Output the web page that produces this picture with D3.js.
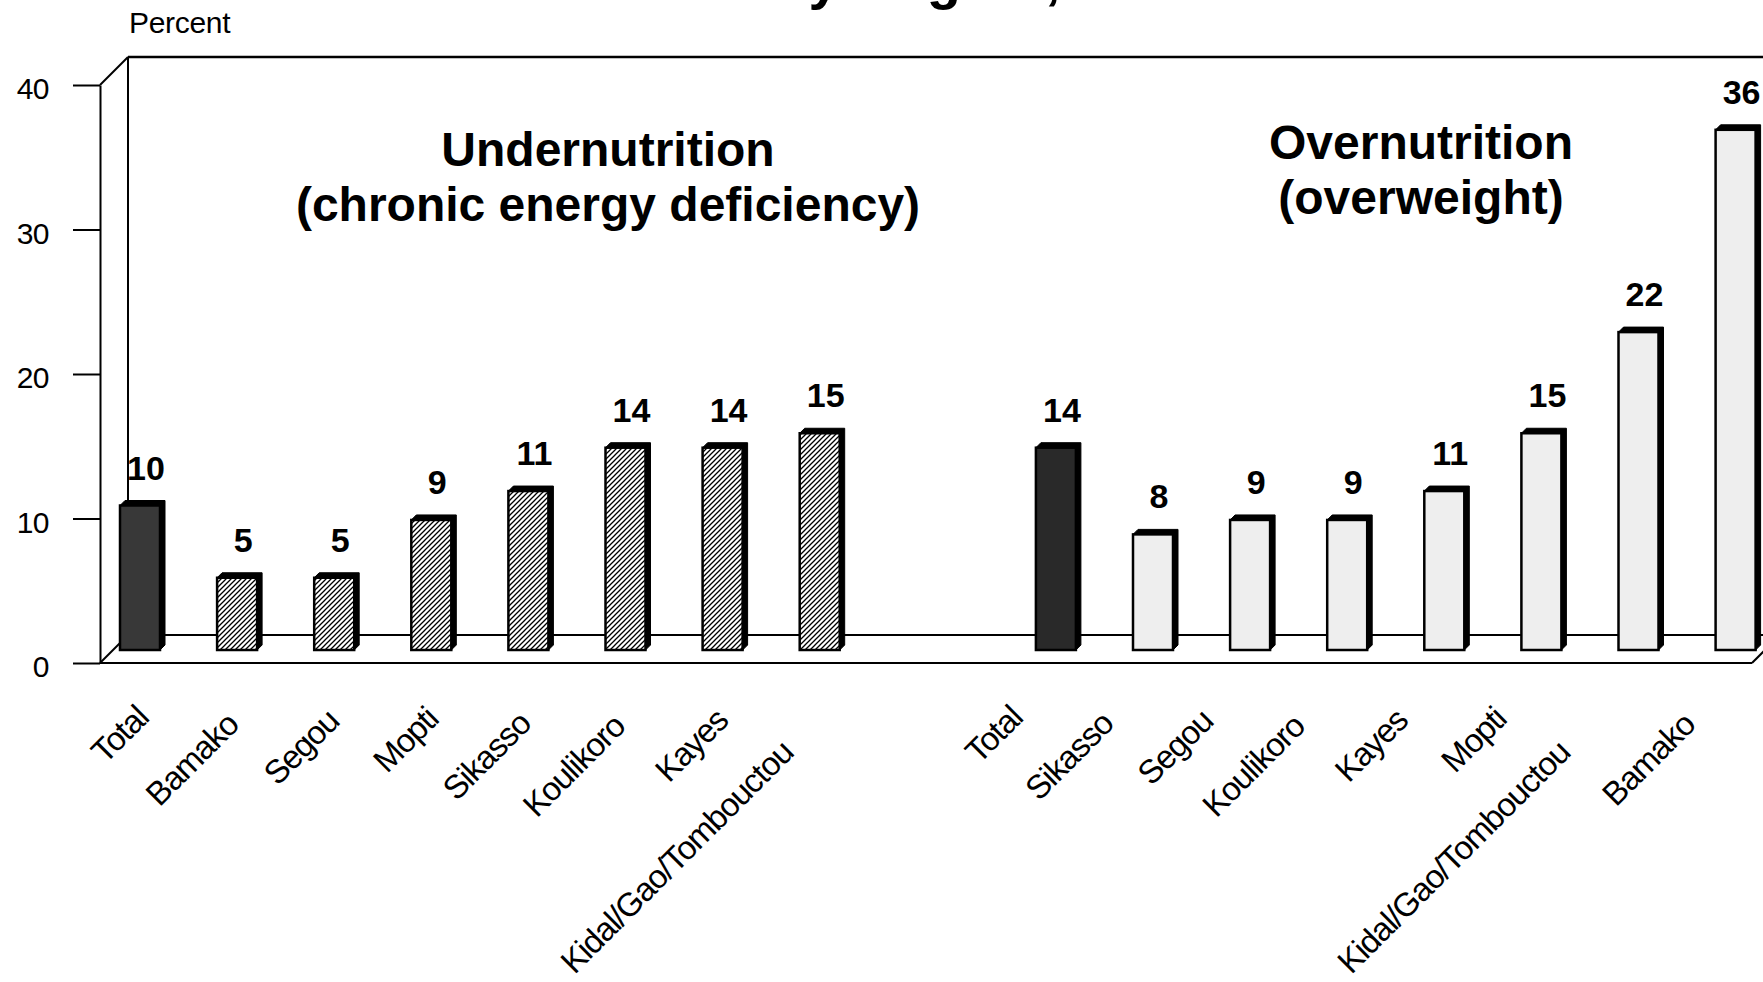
<!DOCTYPE html>
<html><head><meta charset="utf-8">
<script src="https://cdn.jsdelivr.net/npm/d3@7"></script>
<style>
body{margin:0;background:#fff}
svg{display:block}
text{font-family:"Liberation Sans",Arial,Helvetica,sans-serif;fill:#000}
</style></head>
<body><svg id="c" width="1763" height="982"></svg>
<script>
// ---- data ----
const underCats = ["Total","Bamako","Segou","Mopti","Sikasso","Koulikoro","Kayes","Kidal/Gao/Tombouctou"];
const underVals = [10,5,5,9,11,14,14,15];
const overCats = ["Total","Sikasso","Segou","Koulikoro","Kayes","Mopti","Kidal/Gao/Tombouctou","Bamako"];
const overVals = [14,8,9,9,11,15,22,36];
const yTicks = [0,10,20,30,40];
const underTitle = ["Undernutrition","(chronic energy deficiency)"];
const overTitle = ["Overnutrition","(overweight)"];
const yLabel = "Percent";
const chartTitle = "Nutritional Status of Women by Region, Mali 2001";

// ---- layout ----
const svg = d3.select("#c");
const DEPTH = 28, BAR_DEPTH = 13, SIDE = 5, BAR_W = 40;
const axisX = 100, rightFront = 1752;
const y = d3.scaleLinear().domain([0,40]).range([663,85]);

const slots = underCats.map((d,i)=>"u"+i).concat(["gap"], overCats.map((d,i)=>"o"+i));
const x = d3.scalePoint().domain(slots).range([140, 140 + 16*97.1]);
const OVER_SHIFT = 42;

const under = underCats.map((c,i)=>({cat:c, v:underVals[i], key:"u"+i, grp:"u", total:i===0}));
const over = overCats.map((c,i)=>({cat:c, v:overVals[i], key:"o"+i, grp:"o", total:i===0}));
const all = under.concat(over);
const barCx = d => x(d.key) + (d.grp==="o" ? OVER_SHIFT : 0);

// hatch pattern
const defs = svg.append("defs");
const pat = defs.append("pattern").attr("id","hatch").attr("patternUnits","userSpaceOnUse")
  .attr("width",5).attr("height",5);
pat.append("rect").attr("width",5).attr("height",5).attr("fill","#fff");
pat.append("path").attr("d","M0,5 L5,0 M-1.25,1.25 L1.25,-1.25 M3.75,6.25 L6.25,3.75")
  .attr("stroke","#000").attr("stroke-width",1.3);

// title (cut off at top)
const t = svg.append("text").attr("y",-2).attr("font-size",56).attr("font-weight","bold").text(chartTitle);
(function(){
  const node = t.node();
  const idx = chartTitle.indexOf("by") + 1;
  const pre = node.getSubStringLength(0, idx);
  const yw = node.getSubStringLength(idx, 1);
  t.attr("x", 824 - pre - yw/2);
})();

// walls / floor
const frame = svg.append("g").attr("stroke","#000").attr("fill","none").attr("stroke-width",2);
const y0 = y(0), y40 = y(40);
frame.append("line").attr("x1",axisX+DEPTH).attr("y1",y40-DEPTH).attr("x2",rightFront+DEPTH).attr("y2",y40-DEPTH).attr("stroke-width",2.5);
frame.append("line").attr("x1",axisX+DEPTH).attr("y1",y40-DEPTH).attr("x2",axisX+DEPTH).attr("y2",y0-DEPTH);
frame.append("line").attr("x1",axisX+DEPTH).attr("y1",y0-DEPTH).attr("x2",rightFront+DEPTH).attr("y2",y0-DEPTH);
frame.append("line").attr("x1",axisX).attr("y1",y40).attr("x2",axisX+DEPTH).attr("y2",y40-DEPTH);
frame.append("line").attr("x1",axisX).attr("y1",y0).attr("x2",axisX+DEPTH).attr("y2",y0-DEPTH);
frame.append("line").attr("x1",axisX).attr("y1",y0).attr("x2",rightFront).attr("y2",y0);
frame.append("line").attr("x1",rightFront).attr("y1",y0).attr("x2",rightFront+DEPTH).attr("y2",y0-DEPTH);
frame.append("line").attr("x1",rightFront+DEPTH).attr("y1",y0-DEPTH).attr("x2",rightFront+DEPTH).attr("y2",y40-DEPTH);

// y axis
const ax = svg.append("g").attr("transform",`translate(${axisX},0)`)
  .call(d3.axisLeft(y).tickValues(yTicks).tickSize(27).tickSizeOuter(0).tickPadding(24));
ax.select(".domain").attr("stroke","#000").attr("stroke-width",2);
ax.selectAll(".tick line").attr("stroke","#000").attr("stroke-width",2);
ax.selectAll(".tick text").attr("font-size",30).attr("font-family","Liberation Sans, Arial, sans-serif")
  .attr("fill","#000").attr("dy","0.45em").attr("letter-spacing","-0.5px");

svg.append("text").attr("x",129).attr("y",33).attr("font-size",30).attr("letter-spacing","-0.3px").text(yLabel);

// bars
const bars = svg.append("g");
const bg = bars.selectAll("g").data(all).join("g");
bg.append("path").attr("fill","#000").attr("stroke","#000").attr("stroke-width",1)
  .attr("d", d => {
    const l = barCx(d) - BAR_W/2, r = l + BAR_W, top = y(d.v) - BAR_DEPTH, bot = y0 - BAR_DEPTH;
    return `M${l},${top} L${l+SIDE},${top-SIDE} L${r+SIDE},${top-SIDE} L${r+SIDE},${bot-SIDE} L${r},${bot} L${r},${top} Z`;
  });
bg.append("rect")
  .attr("x", d => barCx(d) - BAR_W/2)
  .attr("y", d => y(d.v) - BAR_DEPTH)
  .attr("width", BAR_W)
  .attr("height", d => y0 - y(d.v))
  .attr("fill", d => d.total ? (d.grp==="u" ? "#383838" : "#292929") : (d.grp==="u" ? "url(#hatch)" : "#eeeeee"))
  .attr("stroke","#000").attr("stroke-width",2.5);

// value labels
svg.append("g").selectAll("text").data(all).join("text")
  .attr("x", d => barCx(d) + 6)
  .attr("y", d => y(d.v) - BAR_DEPTH - 26)
  .attr("text-anchor","middle").attr("font-size",34).attr("font-weight","bold")
  .text(d => d.v);

// category labels
const cl = svg.append("g").selectAll("text").data(all).join("text")
  .attr("font-size",33).attr("letter-spacing","-1.1px").attr("text-anchor","end")
  .attr("transform", d => `translate(${x(d.key)+19.5},710.5) rotate(-45)`)
  .text(d => d.cat);
cl.each(function(){ const L = this.getComputedTextLength(); d3.select(this).attr("x", -0.2*L); });

// section titles
function sectionTitle(lines, cx, base){
  const g = svg.append("text").attr("text-anchor","middle").attr("font-size",48).attr("font-weight","bold");
  lines.forEach((s,i)=> g.append("tspan").attr("x",cx).attr("y",base + i*55).text(s));
}
sectionTitle(underTitle, 608, 166);
sectionTitle(overTitle, 1421, 159);
</script></body></html>
